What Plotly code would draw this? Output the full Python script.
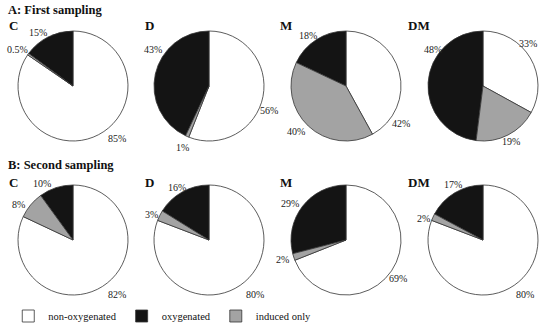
import plotly.graph_objects as go

# ---- data ----
categories = ["non-oxygenated", "oxygenated", "induced only"]
panels = ["C", "D", "M", "DM"]
row_titles = ["A: First sampling", "B: Second sampling"]

first_non_oxygenated = [85, 56, 42, 33]
first_oxygenated = [15, 43, 18, 48]
first_induced_only = [0.5, 1, 40, 19]

second_non_oxygenated = [82, 80, 69, 80]
second_oxygenated = [10, 16, 29, 17]
second_induced_only = [8, 3, 2, 2]

# ---- style / layout ----
colors = ["#ffffff", "#141414", "#a3a3a3"]
W, H = 550, 329
R = 55
centers_x = [73, 209, 346, 483]
centers_y = [86, 240]
serif = "Liberation Serif"

# label offsets (px from pie centre) per row, per panel, per category
label_offsets = [
    [[(44, 52), (-35, -54), (-56, -37)],
     [(60, 24), (-56, -37), (-27, 61)],
     [(55, 37), (-38, -51), (-50, 46)],
     [(45, -43), (-50, -37), (28, 55)]],
    [[(44, 54), (-31, -57), (-55, -36)],
     [(46, 54), (-32, -53), (-58, -26)],
     [(52, 38), (-56, -37), (-64, 19)],
     [(42, 54), (-30, -56), (-60, -22)]],
]

rows = [
    (first_non_oxygenated, first_oxygenated, first_induced_only),
    (second_non_oxygenated, second_oxygenated, second_induced_only),
]

fig = go.Figure()
annotations = []
for ri, (non_ox, ox, ind) in enumerate(rows):
    cy = centers_y[ri]
    for pi, p in enumerate(panels):
        cx = centers_x[pi]
        vals = [non_ox[pi], ox[pi], ind[pi]]
        # counterclockwise with rotation 0: first slice (non-oxygenated) runs
        # clockwise from 12 o'clock, oxygenated ends at 12 o'clock
        fig.add_trace(go.Pie(
            labels=categories,
            values=vals,
            textinfo="none",
            sort=False,
            direction="counterclockwise",
            rotation=0,
            marker=dict(colors=colors, line=dict(color="#333333", width=0.8)),
            domain=dict(x=[(cx - R) / W, (cx + R) / W],
                        y=[(H - cy - R) / H, (H - cy + R) / H]),
            showlegend=(ri == 0 and pi == 0),
            hoverinfo="skip",
        ))
        for ci, v in enumerate(vals):
            dx, dy = label_offsets[ri][pi][ci]
            annotations.append(dict(
                text=f"{v:g}%", x=(cx + dx) / W, y=1 - (cy + dy) / H,
                xref="paper", yref="paper", xanchor="center", yanchor="middle",
                showarrow=False, font=dict(family=serif, size=10, color="#222")))

title_y = [10, 165]
panel_y = [26, 182]
panel_x = [7, 143, 278, 406]
for ri in range(2):
    annotations.append(dict(text=f"<b>{row_titles[ri]}</b>", x=6 / W, y=1 - title_y[ri] / H,
                            xref="paper", yref="paper", xanchor="left", yanchor="middle",
                            showarrow=False, font=dict(family=serif, size=12.5, color="#111")))
    for pi, p in enumerate(panels):
        annotations.append(dict(text=f"<b>{p}</b>", x=panel_x[pi] / W, y=1 - panel_y[ri] / H,
                                xref="paper", yref="paper", xanchor="left", yanchor="middle",
                                showarrow=False, font=dict(family=serif, size=13, color="#111")))

fig.update_layout(
    width=W, height=H,
    margin=dict(l=0, r=0, t=0, b=0, autoexpand=False),
    paper_bgcolor="white",
    plot_bgcolor="white",
    annotations=annotations,
    legend=dict(orientation="h", x=0.015, y=(H - 316) / H, xanchor="left", yanchor="middle",
                font=dict(family=serif, size=10.5, color="#111"),
                itemwidth=30, traceorder="normal", bgcolor="rgba(0,0,0,0)"),
)
fig.write_html("out.html", config={"displayModeBar": False},
               post_script="document.body.style.margin='0';")
